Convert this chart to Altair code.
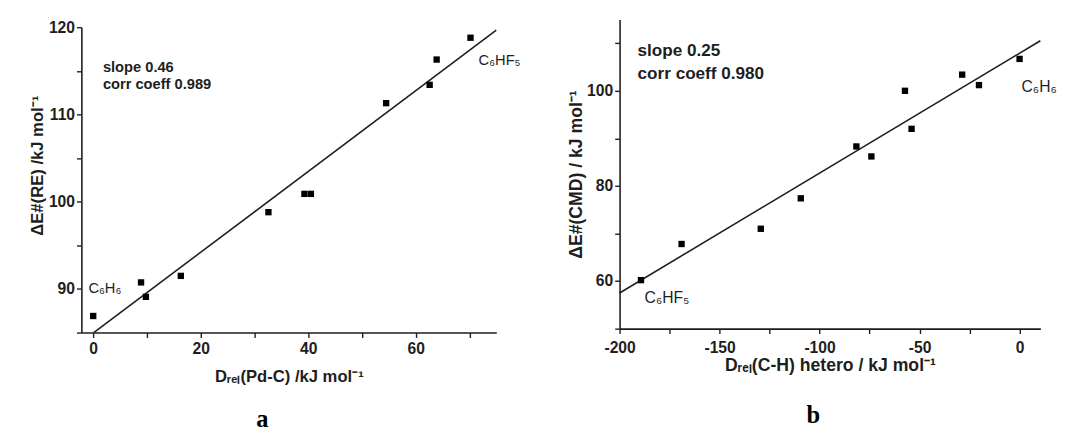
import altair as alt
import pandas as pd

# ---------------- data ----------------
# panel a
a_x = [0, 8.9, 9.8, 16.3, 32.6, 39.3, 40.5, 54.5, 62.6, 63.9, 70.2]
a_y = [86.9, 90.75, 89.1, 91.5, 98.8, 100.9, 100.9, 111.3, 113.4, 116.3, 118.8]
a_fit_slope = 0.463
a_fit_intercept = 84.95
a_fit_x = [0.1, 75]
a_x_domain = [-2.2, 75]
a_y_domain = [85, 120]
a_x_ticks = [0, 10, 20, 30, 40, 50, 60, 70]
a_y_ticks = [85, 90, 95, 100, 105, 110, 115, 120]
a_notes = ["slope 0.46", "corr coeff 0.989"]
a_notes_x = [1.8, 1.8]
a_notes_y = [115.45, 113.5]
a_labels = ["C₆H₆", "C₆HF₅"]
a_labels_x = [-0.9, 71.7]
a_labels_y = [90.1, 116.2]

# panel b
b_x = [-189.3, -169.0, -129.4, -109.4, -81.6, -74.1, -57.3, -54.0, -28.7, -20.3, 0]
b_y = [60.2, 67.8, 71.0, 77.4, 88.3, 86.2, 100.0, 92.0, 103.4, 101.2, 106.7]
b_fit_slope = 0.252
b_fit_intercept = 107.9
b_fit_x = [-200, 10.4]
b_x_domain = [-200, 10.4]
b_y_domain = [50, 115]
b_x_ticks = [-200, -175, -150, -125, -100, -75, -50, -25, 0]
b_y_ticks = [50, 60, 70, 80, 90, 100, 110]
b_notes = ["slope 0.25", "corr coeff 0.980"]
b_notes_x = [-191.0, -191.0]
b_notes_y = [108.3, 103.45]
b_labels = ["C₆HF₅", "C₆H₆"]
b_labels_x = [-187.5, 1.0]
b_labels_y = [56.5, 100.7]

INK = "#1e1e1e"
SANS = "Liberation Sans"


def panel(px, py, slope, intercept, fit_x, xdom, ydom, xticks, yticks,
          xlabel_step, ylabel_step, notes, nx, ny, labels, lx, ly,
          xtitle, ytitle, width, height, yrange, note_size, label_size,
          title_size, letter, letter_dx, letter_offset, xlab_pad, xtitle_pad,
          ytitle_pad, ytitle_y=None):
    pts = pd.DataFrame({"x": px, "y": py})
    fit = pd.DataFrame({"x": fit_x, "y": [intercept + slope * v for v in fit_x]})
    nt = pd.DataFrame({"t": notes, "x": nx, "y": ny})
    lb = pd.DataFrame({"t": labels, "x": lx, "y": ly})

    xs = alt.Scale(domain=xdom, nice=False, zero=False)
    ys_kw = dict(domain=ydom, nice=False, zero=False)
    if yrange is not None:
        ys_kw["range"] = yrange
    ys = alt.Scale(**ys_kw)

    yaxis_kw = dict(
        values=yticks,
        labelExpr=f"datum.value % {ylabel_step} === 0 ? datum.label : ''",
        title=ytitle, titlePadding=ytitle_pad, labelFlush=False,
    )
    if ytitle_y is not None:
        yaxis_kw["titleY"] = ytitle_y
    xaxis = alt.Axis(
        values=xticks,
        labelExpr=(f"datum.value % {xlabel_step} === 0 ? "
                   "replace(datum.label, '\u2212', '-') : ''"),
        title=xtitle, labelPadding=xlab_pad, titlePadding=xtitle_pad,
        titleFontSize=title_size, labelFlush=False,
    )
    yaxis = alt.Axis(titleFontSize=title_size, **yaxis_kw)

    base_x = alt.X("x:Q", scale=xs, axis=xaxis)
    base_y = alt.Y("y:Q", scale=ys, axis=yaxis)

    line = alt.Chart(fit).mark_line(color=INK, strokeWidth=1.6, clip=False).encode(
        x=base_x, y=base_y)
    dots = alt.Chart(pts).mark_point(shape="square", filled=True, size=42,
                                     color="#000", opacity=1).encode(
        x="x:Q", y="y:Q")
    notes_l = alt.Chart(nt).mark_text(align="left", baseline="middle", font=SANS,
                                      fontWeight="bold", fontSize=note_size,
                                      color=INK).encode(x="x:Q", y="y:Q", text="t:N")
    labels_l = alt.Chart(lb).mark_text(align="left", baseline="middle", font=SANS,
                                       fontSize=label_size, color=INK).encode(
        x="x:Q", y="y:Q", text="t:N")
    return alt.layer(line, dots, notes_l, labels_l).properties(
        width=width, height=height,
        title=alt.TitleParams(letter, orient="bottom", anchor="middle", frame="group",
                              font="Liberation Serif", fontSize=25, fontWeight="bold",
                              color="#000", dx=letter_dx, offset=letter_offset),
    )


pa = panel(a_x, a_y, a_fit_slope, a_fit_intercept, a_fit_x, a_x_domain, a_y_domain,
           a_x_ticks, a_y_ticks, 20, 10, a_notes, a_notes_x, a_notes_y,
           a_labels, a_labels_x, a_labels_y,
           "Dᵣₑₗ(Pd-C) /kJ mol⁻¹", "ΔE#(RE) /kJ mol⁻¹",
           424, 320, [320, 8], 15, 15, 17, "a", -27, 23, 3, 13, 2, ytitle_y=149)

pb = panel(b_x, b_y, b_fit_slope, b_fit_intercept, b_fit_x, b_x_domain, b_y_domain,
           b_x_ticks, b_y_ticks, 50, 20, b_notes, b_notes_x, b_notes_y,
           b_labels, b_labels_x, b_labels_y,
           "Dᵣₑₗ(C-H) hetero / kJ mol⁻¹", "ΔE#(CMD) / kJ mol⁻¹",
           430, 316, None, 17.5, 16, 18, "b", -17, 29, 6, 2, 1)

chart = alt.hconcat(pa, pb, spacing=48).properties(
    padding={"left": 21, "top": 7, "right": 0, "bottom": 0},
    background="white",
).configure_view(stroke=None).configure_axis(
    grid=False,
    domainColor=INK, domainWidth=1.6,
    tickColor=INK, tickWidth=1.4, tickSize=5,
    labelFont=SANS, labelFontWeight="bold", labelFontSize=16, labelColor=INK,
    titleFont=SANS, titleFontWeight="bold", titleColor=INK,
)

chart.save("out.html", embed_options={"renderer": "svg", "actions": False})
